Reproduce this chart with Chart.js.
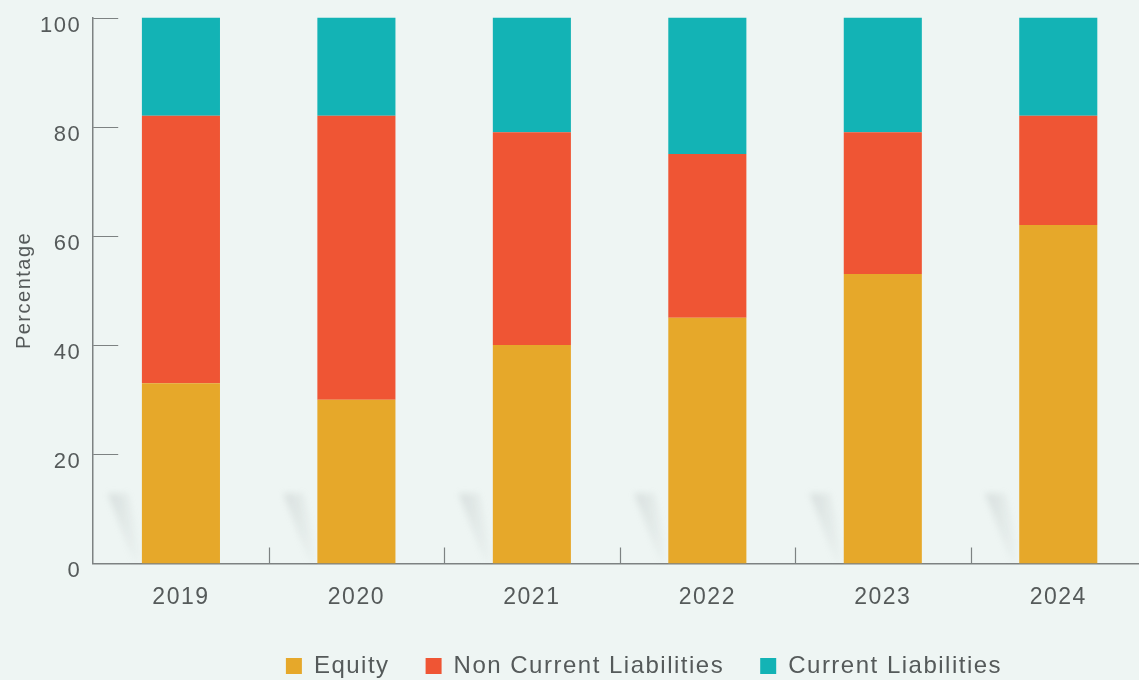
<!DOCTYPE html>
<html>
<head>
<meta charset="utf-8">
<script src="https://cdn.jsdelivr.net/npm/chart.js@4.4.1/dist/chart.umd.min.js"></script>
<style>
  html, body { margin: 0; padding: 0; background: #eef5f3; overflow: hidden; }
  #wrap { width: 1146px; height: 680px; }
</style>
</head>
<body>
<div id="wrap"><canvas id="capitalChart"></canvas></div>
<script>
const years = ['2019', '2020', '2021', '2022', '2023', '2024'];
const equity = [33, 30, 40, 45, 53, 62];
const nonCurrentLiabilities = [49, 52, 39, 30, 26, 20];
const currentLiabilities = [18, 18, 21, 25, 21, 18];
const yTicks = [0, 20, 40, 60, 80, 100];

const textColor = '#555a5a';
const axisColor = '#7d8282';

// soft diagonal shadow to the left of each bar foot
const barShadows = {
    id: 'barShadows',
    beforeDatasetsDraw(chart) {
        const ctx = chart.ctx;
        const meta = chart.getDatasetMeta(0);
        const base = chart.scales.y.getPixelForValue(0);
        meta.data.forEach(bar => {
            const left = bar.x - bar.width / 2;
            const g = ctx.createLinearGradient(left - 34, 0, left, 0);
            g.addColorStop(0, 'rgba(150,160,160,0.26)');
            g.addColorStop(1, 'rgba(150,160,160,0.0)');
            ctx.save();
            ctx.filter = 'blur(3px)';
            ctx.fillStyle = g;
            ctx.beginPath();
            ctx.moveTo(left - 34, base - 70);
            ctx.lineTo(left - 14, base - 70);
            ctx.lineTo(left, base - 12);
            ctx.lineTo(left, base - 2);
            ctx.lineTo(left - 8, base - 2);
            ctx.closePath();
            ctx.fill();
            ctx.restore();
        });
    }
};

// short tick marks pointing into the plot area
const innerTicks = {
    id: 'innerTicks',
    afterDraw(chart) {
        const ctx = chart.ctx;
        const x = chart.scales.x;
        const y = chart.scales.y;
        const x0 = chart.chartArea.left;
        const y0 = y.getPixelForValue(0);
        ctx.save();
        ctx.strokeStyle = axisColor;
        ctx.lineWidth = 1.2;
        ctx.beginPath();
        yTicks.forEach(v => {
            const py = Math.round(y.getPixelForValue(v)) + 0.5;
            ctx.moveTo(x0, py);
            ctx.lineTo(x0 + 25, py);
        });
        for (let i = 0; i < years.length - 1; i++) {
            const px = Math.round((x.getPixelForValue(i) + x.getPixelForValue(i + 1)) / 2) + 0.5;
            ctx.moveTo(px, y0);
            ctx.lineTo(px, y0 - 16);
        }
        ctx.stroke();
        ctx.restore();
    }
};

// legend: wide gaps between items but a shorter box, nudged right
const LEGEND_TRIM = 13;
const legendTweak = {
    id: 'legendTweak',
    afterInit(chart) {
        const lg = chart.legend;
        const fit = lg.fit;
        lg.fit = function () {
            fit.call(this);
            this.height -= LEGEND_TRIM;
        };
    },
    afterLayout(chart) {
        const lg = chart.legend;
        lg.left += 79;
        lg.right += 79;
        lg.top -= LEGEND_TRIM;
    }
};

// slight letter spacing for all canvas text
const spacing = {
    id: 'spacing',
    beforeInit(chart) { chart.ctx.letterSpacing = '1.5px'; },
    beforeUpdate(chart) { chart.ctx.letterSpacing = '1.5px'; },
    beforeDraw(chart) { chart.ctx.letterSpacing = '1.5px'; }
};

Chart.defaults.font.family = "'Liberation Sans', Arial, sans-serif";
Chart.defaults.color = textColor;

new Chart(document.getElementById('capitalChart'), {
    type: 'bar',
    data: {
        labels: years,
        datasets: [
            { label: 'Equity', data: equity, backgroundColor: '#e6a82a' },
            { label: 'Non Current Liabilities', data: nonCurrentLiabilities, backgroundColor: '#ef5534' },
            { label: 'Current Liabilities', data: currentLiabilities, backgroundColor: '#13b3b5' }
        ]
    },
    options: {
        responsive: true,
        maintainAspectRatio: false,
        animation: false,
        datasets: {
            bar: { barPercentage: 0.445, categoryPercentage: 1 }
        },
        layout: { padding: { top: 2, right: 0, left: -16, bottom: -8 } },
        scales: {
            x: {
                stacked: true,
                grid: { display: false, drawTicks: false },
                border: { display: true, color: axisColor, width: 1.5 },
                ticks: { padding: 20, font: { size: 23 }, color: textColor }
            },
            y: {
                stacked: true,
                min: 0,
                max: 100,
                afterBuildTicks(scale) {
                    scale.ticks = yTicks.map(v => ({ value: v }));
                },
                grid: { display: false, drawTicks: false },
                border: { display: true, color: axisColor, width: 1.5 },
                ticks: {
                    padding: 12,
                    labelOffset: 8,
                    font: { size: 22, lineHeight: 0.5 },
                    color: textColor
                },
                title: {
                    display: true,
                    text: 'Percentage',
                    font: { size: 20 },
                    color: textColor,
                    padding: { top: 28, bottom: -8 }
                }
            }
        },
        plugins: {
            legend: {
                position: 'bottom',
                labels: {
                    boxWidth: 16,
                    boxHeight: 16,
                    padding: 36,
                    font: { size: 24 },
                    color: textColor
                }
            },
            tooltip: { enabled: false }
        }
    },
    plugins: [spacing, barShadows, innerTicks, legendTweak]
});
</script>
</body>
</html>
